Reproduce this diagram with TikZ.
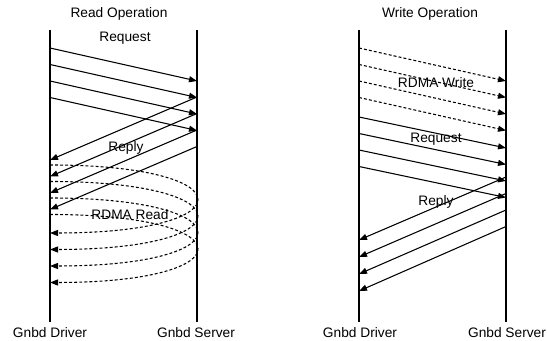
\documentclass[tikz,border=0pt]{standalone}
\usepackage{fontspec}
\setmainfont{Liberation Sans}
\usetikzlibrary{arrows.meta, calc}
\tikzset{
  lifeline/.style={line width=1.1pt},
  msg/.style={-{Triangle[length=6pt,width=4.5pt]}, line width=0.8pt},
  rdma/.style={msg, dash pattern=on 2.2pt off 1.6pt},
  lbl/.style={font=\fontsize{10.3}{12}\selectfont, inner sep=1pt}
}

\begin{document}
\begin{tikzpicture}[x=0.75pt, y=-0.75pt]
  \useasboundingbox (0,0) rectangle (547,341);

  % Lifelines
  \coordinate (rd top) at (50,30);
  \coordinate (rs top) at (197,30);
  \coordinate (wd top) at (359,30);
  \coordinate (ws top) at (506,30);
  \draw[lifeline] (rd top) -- ++(0,292) coordinate (rd bot);
  \draw[lifeline] (rs top) -- ++(0,292) coordinate (rs bot);
  \draw[lifeline] (wd top) -- ++(0,292) coordinate (wd bot);
  \draw[lifeline] (ws top) -- ++(0,292) coordinate (ws bot);

  % Titles and endpoints
  \node[lbl] (rd title) at (119,14) {Read Operation};
  \node[lbl] (wr title) at (430,14) {Write Operation};
  \node[lbl] (rd drv) at (50,333) {Gnbd Driver};
  \node[lbl] (rd srv) at (196,333) {Gnbd Server};
  \node[lbl] (wr drv) at (360,333) {Gnbd Driver};
  \node[lbl] (wr srv) at (507,333) {Gnbd Server};

  % Message labels
  \node[lbl] (rd req) at (125,38) {Request};
  \node[lbl] (rd rep) at (126,148) {Reply};
  \node[lbl] (rd rdma) at (130,215) {RDMA Read};
  \node[lbl] (wr rdma) at (436,83) {RDMA Write};
  \node[lbl] (wr req) at (436,139) {Request};
  \node[lbl] (wr rep) at (436,202) {Reply};

  % Read: requests out, replies back
  \foreach \i in {0,...,3} {
    \draw[msg] ($(rd top)+(0,18+16.5*\i)$) -- ($(rs top)+(0,51+16.5*\i)$);
    \draw[msg] ($(rs top)+(0,67+16.5*\i)$) -- ($(rd top)+(0,130+16.5*\i)$);
  }
  % Read: rdma loops out to the server and back
  \foreach \i in {0,...,3}
    \draw[rdma] ($(rd top)+(0,135+16.5*\i)$) .. controls +(196,0) and +(196,0)
      .. ($(rd top)+(0,203+16.5*\i)$);

  % Write: rdma data, requests, then replies
  \foreach \i in {0,...,3} {
    \draw[rdma] ($(wd top)+(0,18+16.5*\i)$) -- ($(ws top)+(0,51+16.5*\i)$);
    \draw[msg] ($(wd top)+(0,87+16.5*\i)$) -- ($(ws top)+(0,118+16.5*\i)$);
    \draw[msg] ($(ws top)+(0,147+16.5*\i)$) -- ($(wd top)+(0,210+17*\i)$);
  }
\end{tikzpicture}
\end{document}
